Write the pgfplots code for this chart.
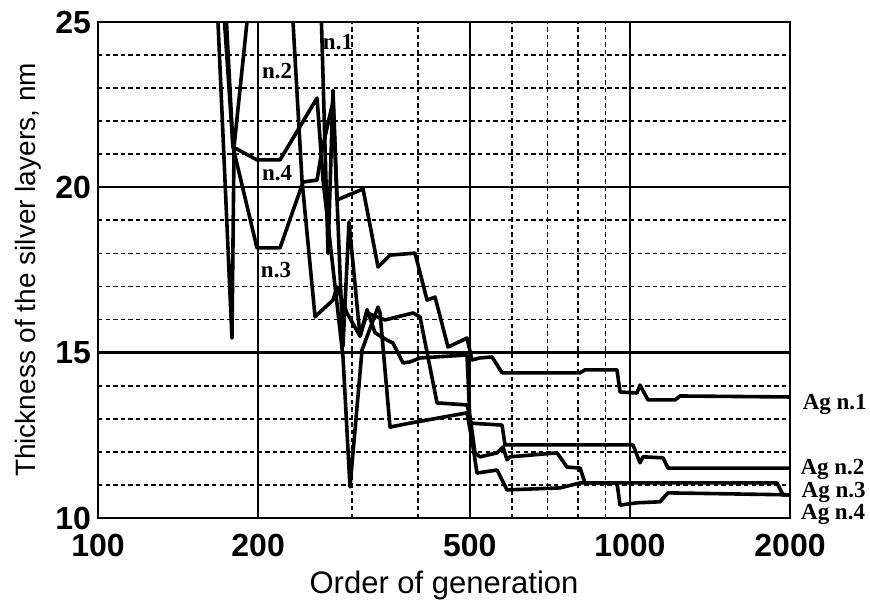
\documentclass[border=0pt]{standalone}
\usepackage{pgfplots}
\pgfplotsset{compat=1.18}
\usepackage{fontspec}
\setmainfont{Liberation Sans}
\newfontfamily\timesfont{Liberation Serif}
\begin{document}
\begin{tikzpicture}
\path[use as bounding box] (-49pt,-45pt) rectangle (386pt,259pt);
\begin{axis}[
  at={(0,0)}, anchor=south west,
  width=346pt, height=248pt, scale only axis,
  xmode=log, xmin=100, xmax=2000, ymin=10, ymax=25,
  xtick={100,200,500,1000,2000},
  xticklabels={100,200,500,1000,2000},
  minor xtick={300,400,600,700,800,900},
  ytick={10,15,20,25},
  yticklabels={10,15,20,25},
  minor ytick={11,12,13,14,16,17,18,19,21,22,23,24},
  grid=both,
  major grid style={black, line width=0.9pt},
  minor grid style={black, line width=0.9pt, dash pattern=on 2.2pt off 1.6pt},
  major tick length=0pt, minor tick length=0pt,
  axis line style={black, line width=1.1pt},
  tick label style={font=\fontsize{16}{16}\selectfont\bfseries},
  xticklabel style={yshift=-4.5pt},
  xlabel={Order of generation},
  xlabel style={at={(axis description cs:0.5,-0.136)}, anchor=center, font=\fontsize{15.5}{16}\selectfont},
  ylabel={Thickness of the silver layers, nm},
  ylabel style={at={(axis description cs:-0.101,0.5)}, anchor=center, font=\fontsize{14}{15}\selectfont},
  clip mode=individual,
]
\draw[line width=1.7pt] (axis cs:100,15) -- (axis cs:2000,15);
\draw[line width=1.1pt] (axis cs:100,20) -- (axis cs:2000,20);
% Ag n.1
\addplot[black, line width=1.8pt, line join=round] coordinates {
(262,26.0) (270.7,18.0) (276.6,22.94) (281.4,19.62) (315.0,19.95) (336.1,17.59)
(354.0,17.95) (394.5,18.01) (415.5,16.59) (430.2,16.68) (455.0,15.17) (494.0,15.44)
(504.8,14.78) (522.6,14.84) (550.5,14.87) (574.9,14.39) (805.8,14.39) (823.4,14.48)
(945.6,14.48) (958.1,13.81) (1031.1,13.78) (1044.6,14.02) (1081.4,13.57) (1215.7,13.57)
(1242.3,13.69) (2000,13.66)};
% Ag n.2
\addplot[black, line width=1.8pt, line join=round] coordinates {
(166,27) (178.6,15.44) (180.2,21.22) (190.6,25) (210,28) (232.6,25) (241.8,20.22)
(255.9,16.08) (261.5,16.23) (276.6,16.59) (281.4,16.99) (293.8,16.2) (310.9,15.5)
(320.5,16.3) (331.8,15.6) (349.4,15.38) (358.6,15.29) (369.7,14.87) (374.5,14.69)
(386.1,14.72) (403.1,14.84) (494.0,14.93) (500.5,12.87) (574.9,12.81) (582.4,12.21)
(1013.5,12.21) (1044.6,11.67) (1058.3,11.85) (1153.9,11.82) (1179.2,11.51) (2000,11.51)};
% Ag n.3
\addplot[black, line width=1.8pt, line join=round] coordinates {
(169.6,27) (179.4,21.22) (199.0,18.17) (219.9,18.17) (242.9,20.16) (258.1,20.22)
(263.7,21.13) (276.6,22.6) (288.8,15.2) (296.4,18.95) (310.9,15.5) (320.5,16.2)
(346.4,15.99) (391.1,16.20) (403.1,16.08) (433.9,13.48) (494.0,13.42) (500.5,13.06)
(511.4,11.97) (522.6,11.85) (562.6,11.97) (577.4,12.15) (587.4,11.76) (595.1,11.85)
(729.5,11.97) (761.8,11.54) (805.8,11.51) (823.4,11.06) (1891,11.06) (1940,10.70) (2000,10.70)};
% Ag n.4
\addplot[black, line width=1.8pt, line join=round] coordinates {
(171.8,27) (179.4,21.22) (199.0,20.83) (219.9,20.83) (258.1,22.70) (264.9,20.22)
(288.8,14.87) (297.7,10.94) (313.6,15.08) (336.1,16.38) (339.0,16.20) (354.0,12.75)
(386.1,12.87) (494.0,13.18) (504.8,12.36) (515.8,11.36) (562.6,11.45) (587.4,10.85)
(739.1,10.91) (805.8,11.06) (945.6,11.06) (958.1,10.39) (1031.1,10.46) (1139,10.49)
(1179.2,10.76) (2000,10.70)};
\begin{scope}[every node/.style={font=\timesfont\bfseries\fontsize{11.5}{11.5}\selectfont, inner sep=0pt}]
\node at (axis cs:282.6,24.40) {n.1};
\node at (axis cs:217.1,23.52) {n.2};
\node at (axis cs:217.1,20.43) {n.4};
\node at (axis cs:216.1,17.50) {n.3};
\node[anchor=west] at (axis cs:2110,13.42) {Ag n.1};
\node[anchor=west] at (axis cs:2090,11.48) {Ag n.2};
\node[anchor=west] at (axis cs:2100,10.76) {Ag n.3};
\node[anchor=west] at (axis cs:2095,10.10) {Ag n.4};
\end{scope}
\end{axis}
\end{tikzpicture}
\end{document}
